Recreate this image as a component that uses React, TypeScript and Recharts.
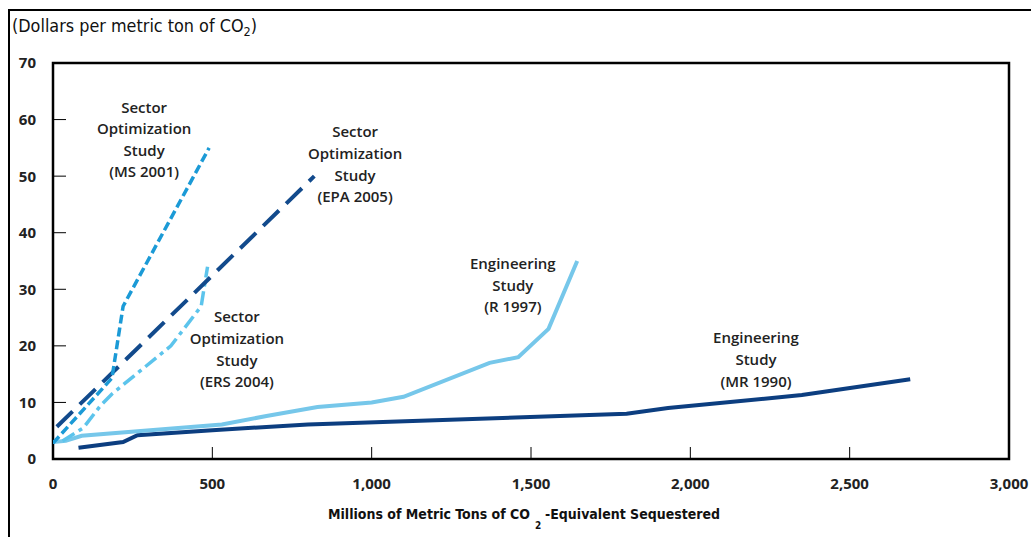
import { LineChart, Line, XAxis, YAxis, ReferenceArea, ReferenceDot } from "recharts"

// sequestered (millions of metric tons) vs. cost ($ per metric ton of CO2)
const ms2001 = [
  { x: 0, y: 2.8 },
  { x: 185, y: 14.3 },
  { x: 220, y: 27 },
  { x: 490, y: 55 },
]
const epa2005 = [
  { x: 12, y: 5.7 },
  { x: 820, y: 50 },
]
const ers2004 = [
  { x: 30, y: 3.2 },
  { x: 95, y: 5.5 },
  { x: 150, y: 9.5 },
  { x: 185, y: 11.5 },
  { x: 370, y: 20 },
  { x: 465, y: 27 },
  { x: 485, y: 34 },
]
const r1997 = [
  { x: 0, y: 3 },
  { x: 40, y: 3.2 },
  { x: 90, y: 4.1 },
  { x: 530, y: 6.1 },
  { x: 670, y: 7.6 },
  { x: 830, y: 9.2 },
  { x: 1000, y: 10 },
  { x: 1100, y: 11 },
  { x: 1370, y: 17 },
  { x: 1460, y: 18 },
  { x: 1555, y: 23 },
  { x: 1645, y: 35 },
]
const mr1990 = [
  { x: 80, y: 2 },
  { x: 220, y: 3 },
  { x: 265, y: 4.2 },
  { x: 500, y: 5.1 },
  { x: 800, y: 6.1 },
  { x: 1800, y: 8 },
  { x: 1930, y: 9 },
  { x: 2350, y: 11.3 },
  { x: 2690, y: 14.1 },
]

const xTicks = [0, 500, 1000, 1500, 2000, 2500, 3000]
const yTicks = [0, 10, 20, 30, 40, 50, 60, 70]

// study labels, anchored at the centre of their first line
const notes = [
  { x: 286, y: 62.2, lines: ["Sector", "Optimization", "Study", "(MS 2001)"] },
  { x: 948, y: 57.8, lines: ["Sector", "Optimization", "Study", "(EPA 2005)"] },
  { x: 577, y: 25.1, lines: ["Sector", "Optimization", "Study", "(ERS 2004)"] },
  { x: 1443, y: 34.5, lines: ["Engineering", "Study", "(R 1997)"] },
  { x: 2206, y: 21.4, lines: ["Engineering", "Study", "(MR 1990)"] },
]

const TICK_FONT = "'Open Sans', sans-serif"
const NARROW = "'Liberation Sans Narrow', 'DejaVu Sans Condensed', sans-serif"

function XTick({ x, y, payload }: any) {
  const v = payload.value
  const inner = v > 0 && v < 3000
  return (
    <g>
      {inner && <line x1={x} x2={x} y1={y} y2={y - 12} stroke="#000" strokeWidth={1} />}
      <text x={x} y={y + 30} textAnchor="middle" fontFamily={TICK_FONT} fontWeight={700} fontSize={15} fill="#222">
        {v.toLocaleString("en-US")}
      </text>
    </g>
  )
}

function YTick({ x, y, payload }: any) {
  const v = payload.value
  const inner = v > 0 && v < 70
  return (
    <g>
      {inner && <line x1={x} x2={x + 13} y1={y} y2={y} stroke="#000" strokeWidth={1} />}
      <text x={x - 17} y={y} dy="0.36em" textAnchor="end" fontFamily={TICK_FONT} fontWeight={700} fontSize={15} fill="#222">
        {v}
      </text>
    </g>
  )
}

function noteLabel(lines: string[]) {
  return ({ viewBox }: any) => {
    const cx = viewBox.x + viewBox.width / 2
    const cy = viewBox.y + viewBox.height / 2
    return (
      <text textAnchor="middle" fontFamily={TICK_FONT} fontWeight={600} fontSize={15} fill="#222">
        {lines.map((l, i) => (
          <tspan key={i} x={cx} y={cy + i * 21.6} dy="0.36em">
            {l}
          </tspan>
        ))}
      </text>
    )
  }
}

export default function App() {
  return (
    <div style={{ position: "absolute", left: 0, top: 0, width: 1031, height: 537, overflow: "hidden", background: "#fff" }}>
      {/* outer frame, only left and top edges show */}
      <div
        style={{
          position: "absolute",
          left: 8,
          top: 9,
          width: 1100,
          height: 600,
          borderLeft: "2px solid #000",
          borderTop: "2px solid #000",
        }}
      />
      <svg width={1031} height={537} style={{ position: "absolute", left: 0, top: 0 }}>
        <text x={12} y={32} fontFamily={NARROW} fontSize={17} fill="#111" textLength={245} lengthAdjust="spacingAndGlyphs">
          (Dollars per metric ton of CO
          <tspan fontSize={12} dy={4}>2</tspan>
          <tspan dy={-4}>)</tspan>
        </text>
        <text x={328} y={519} fontFamily={NARROW} fontWeight={700} fontSize={14} fill="#111">
          Millions of Metric Tons of CO
        </text>
        <text x={535} y={529} fontFamily={NARROW} fontWeight={700} fontSize={10} fill="#111">
          2
        </text>
        <text x={545} y={519} fontFamily={NARROW} fontWeight={700} fontSize={14} fill="#111">
          -Equivalent Sequestered
        </text>
      </svg>
      <div style={{ position: "absolute", left: 0, top: 0 }}>
        <LineChart width={1031} height={537} margin={{ top: 63, right: 22, bottom: 0, left: 0 }}>
          <XAxis
            type="number"
            dataKey="x"
            domain={[0, 3000]}
            ticks={xTicks}
            interval={0}
            height={78}
            axisLine={false}
            tickLine={false}
            tickSize={0}
            tickMargin={0}
            tick={<XTick />}
            allowDataOverflow
          />
          <YAxis
            type="number"
            dataKey="y"
            domain={[0, 70]}
            ticks={yTicks}
            interval={0}
            width={53}
            axisLine={false}
            tickLine={false}
            tickSize={0}
            tickMargin={0}
            tick={<YTick />}
            allowDataOverflow
          />
          <ReferenceArea x1={0} x2={3000} y1={0} y2={70} fill="none" stroke="#000" strokeWidth={2.5} />
          <Line data={mr1990} dataKey="y" stroke="#0c3e80" strokeWidth={4} dot={false} activeDot={false} isAnimationActive={false} />
          <Line data={r1997} dataKey="y" stroke="#76c7ea" strokeWidth={4} dot={false} activeDot={false} isAnimationActive={false} />
          <Line
            data={ers2004}
            dataKey="y"
            stroke="#5cc4ec"
            strokeWidth={3.5}
            strokeDasharray="14 5 4 5"
            dot={false}
            activeDot={false}
            isAnimationActive={false}
          />
          <Line
            data={epa2005}
            dataKey="y"
            stroke="#124a8c"
            strokeWidth={4}
            strokeDasharray="22 10"
            dot={false}
            activeDot={false}
            isAnimationActive={false}
          />
          <Line
            data={ms2001}
            dataKey="y"
            stroke="#1b9ad6"
            strokeWidth={3.5}
            strokeDasharray="9 4"
            dot={false}
            activeDot={false}
            isAnimationActive={false}
          />
          {notes.map((n, i) => (
            <ReferenceDot key={i} x={n.x} y={n.y} r={1} fill="none" stroke="none" label={{ content: noteLabel(n.lines) }} />
          ))}
        </LineChart>
      </div>
    </div>
  )
}
